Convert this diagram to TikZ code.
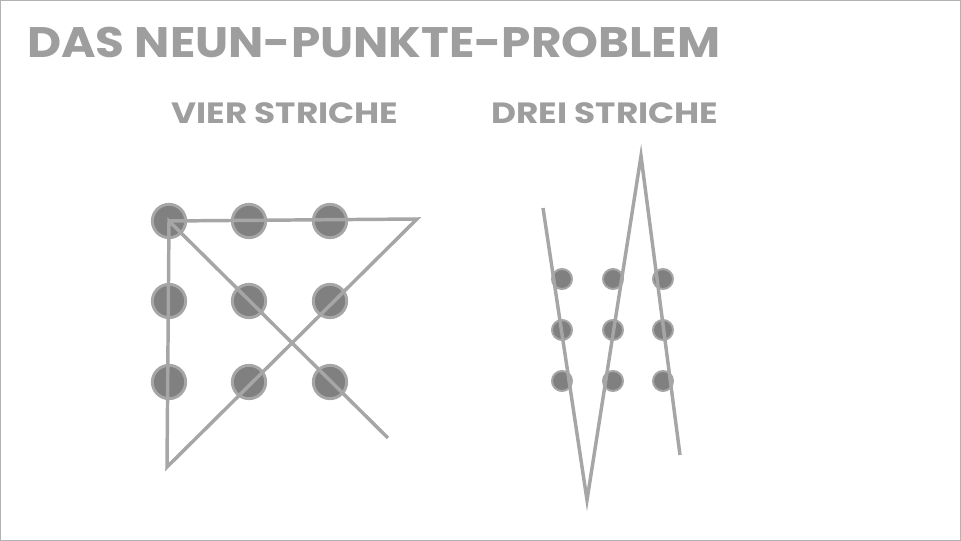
\documentclass[tikz,border=0pt]{standalone}
\usepackage{fontspec}
\setmainfont{Poppins}
\newfontfamily\titlefont[FakeStretch=1.1]{Poppins}
\newfontfamily\headfont[FakeStretch=1.17]{Poppins}
\definecolor{textgray}{HTML}{9E9E9E}
\definecolor{dotfill}{HTML}{808080}
\definecolor{linegray}{HTML}{A6A6A6}
\tikzset{
  dot/.style={circle, draw=linegray, line width=2.2pt, fill=dotfill, inner sep=0pt},
  bigdot/.style={dot, minimum size=25pt},
  smalldot/.style={dot, minimum size=15pt, line width=1.5pt},
  stroke/.style={draw=linegray, line width=2.6pt, line join=miter},
  heading/.style={text=textgray, inner sep=0pt}
}
\begin{document}
\begin{tikzpicture}[x=0.75pt, y=-0.75pt]
\useasboundingbox (0,0) rectangle (961,541);
\draw[draw=black!30, line width=0.75pt] (0.5,0.5) rectangle (960.5,540.5);

% Titles
\node[heading, anchor=west, font=\titlefont\fontsize{32}{32}\selectfont\bfseries] (title) at (27,42) {DAS NEUN-PUNKTE-PROBLEM};
\node[heading, font=\headfont\fontsize{22}{22}\selectfont\bfseries] (vier) at (285,113) {VIER STRICHE};
\node[heading, font=\headfont\fontsize{22}{22}\selectfont\bfseries] (drei) at (605,113) {DREI STRICHE};

% Four strokes: dots
\foreach \r/\y in {1/221, 2/301, 3/382}
  \foreach \c/\x in {1/169, 2/249, 3/330}
    \node[bigdot] (a\r\c) at (\x,\y) {};
\coordinate (ta) at (417,219);
\coordinate (tb) at (167,467);
\coordinate (tc) at (388,438);
\draw[stroke] (a11.center) -- (ta) -- (tb) -- (a11.center) -- (tc);

% Three strokes: dots
\foreach \r/\y in {1/279, 2/330, 3/381}
  \foreach \c/\x in {1/562, 2/613, 3/663}
    \node[smalldot] (b\r\c) at (\x,\y) {};
\coordinate (sa) at (543,208);
\coordinate (sb) at (587,500);
\coordinate (sc) at (641,156);
\coordinate (sd) at (680,455);
\draw[stroke] (sa) -- (sb) -- (sc) -- (sd);
\end{tikzpicture}
\end{document}
